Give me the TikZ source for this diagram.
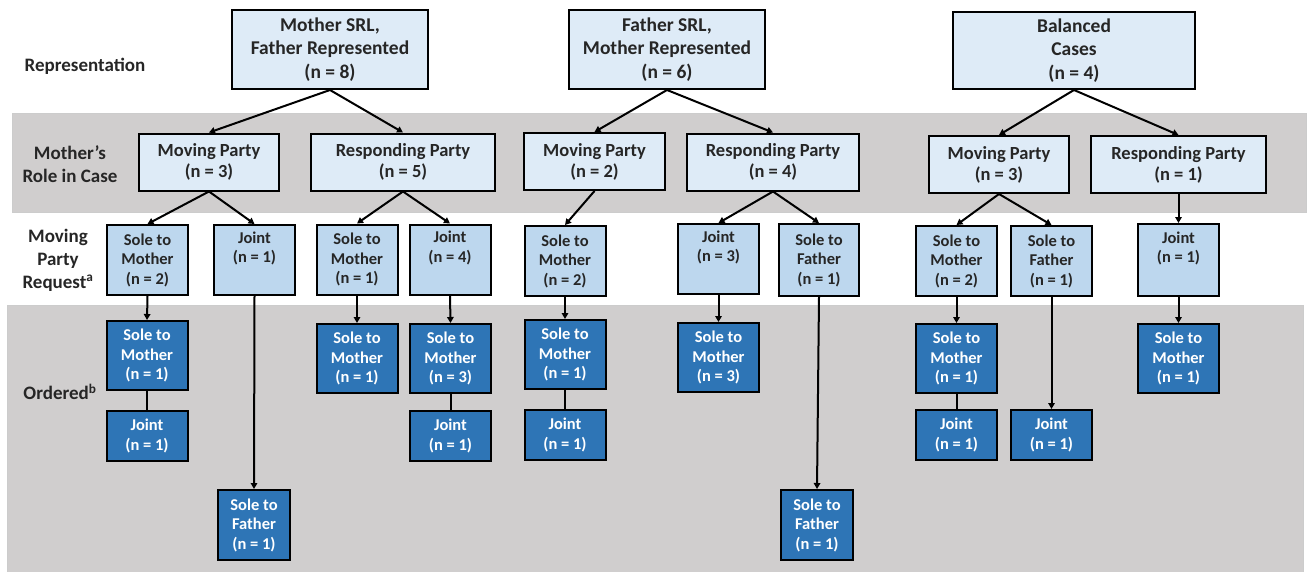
\documentclass[tikz,border=0pt]{standalone}
\usepackage{fontspec}
\setmainfont{Carlito}
\usetikzlibrary{arrows.meta}
\definecolor{topfill}{HTML}{DEEBF7}
\definecolor{midfill}{HTML}{BDD7EE}
\definecolor{darkfill}{HTML}{2E75B6}
\definecolor{bandgrey}{HTML}{D0CECE}
\definecolor{txt}{HTML}{262626}
\begin{document}
\begin{tikzpicture}[x=1pt,y=-1pt,
 base/.style={draw=black, line width=2pt, inner sep=0pt, align=center, font=\bfseries\fontsize{16.5}{19.5}\selectfont},
 topbox/.style={base, fill=topfill, text=txt, font=\bfseries\fontsize{19.5}{23.5}\selectfont, minimum width=196pt, minimum height=79pt},
 rolebox/.style={base, fill=topfill, text=txt, font=\bfseries\fontsize{18.5}{21}\selectfont, minimum height=57pt},
 reqbox/.style={base, fill=midfill, text=txt, minimum width=81pt, minimum height=70pt},
 ordbox/.style={base, fill=darkfill, text=white, minimum width=81pt, minimum height=69pt},
 jointbox/.style={base, fill=darkfill, text=white, minimum width=81pt, minimum height=50pt},
 rowlabel/.style={align=center, text=txt, font=\bfseries\fontsize{19}{23}\selectfont},
 band/.style={fill=bandgrey, draw=black!20, line width=0.8pt},
 arr/.style={-{Triangle[length=6pt,width=6.5pt]}, line width=2pt},
 link/.style={line width=2pt}]

\useasboundingbox (0,0) rectangle (1307,571);
\path[band] (12,113) rectangle (1306,212);
\path[band] (7,305) rectangle (1303,575);

% row labels
\node[rowlabel] (lab1) at (85,66) {Representation};
\node[rowlabel] (lab2) at (70,164) {Mother’s\\Role in Case};
\node[rowlabel] (lab3) at (58,260) {Moving\\Party\\Request\textsuperscript{a}};
\node[rowlabel] (lab4) at (60,392) {Ordered\textsuperscript{b}};

% top level
\node[topbox] (T1) at (330,49.5) {Mother SRL,\\Father Represented\\(n = 8)};
\node[topbox] (T2) at (667,49.5) {Father SRL,\\Mother Represented\\(n = 6)};
\node[topbox, minimum width=242pt, minimum height=77pt] (T3) at (1074,50.5) {Balanced\\Cases\\(n = 4)};

% mother's role
\node[rolebox, minimum width=140pt] (M1) at (209,162) {Moving Party\\(n = 3)};
\node[rolebox, minimum width=184pt] (R1) at (403,162) {Responding Party\\(n = 5)};
\node[rolebox, minimum width=141pt] (M2) at (594.5,161.5) {Moving Party\\(n = 2)};
\node[rolebox, minimum width=172pt] (R2) at (773,162) {Responding Party\\(n = 4)};
\node[rolebox, minimum width=140pt] (M3) at (999,164.5) {Moving Party\\(n = 3)};
\node[rolebox, minimum width=175pt] (R3) at (1178.5,164.5) {Responding Party\\(n = 1)};

% moving party request
\node[reqbox] (Q1) at (147.5,260) {Sole to\\Mother\\(n = 2)};
\node[reqbox] (Q2) at (254.5,260) {Joint\\(n = 1)\\\strut};
\node[reqbox] (Q3) at (357,259.5) {Sole to\\Mother\\(n = 1)};
\node[reqbox] (Q4) at (450,259.5) {Joint\\(n = 4)\\\strut};
\node[reqbox] (Q5) at (565,261) {Sole to\\Mother\\(n = 2)};
\node[reqbox] (Q6) at (718.5,259) {Joint\\(n = 3)\\\strut};
\node[reqbox, minimum width=80pt, minimum height=72pt] (Q7) at (819,260) {Sole to\\Father\\(n = 1)};
\node[reqbox] (Q8) at (956.5,261) {Sole to\\Mother\\(n = 2)};
\node[reqbox] (Q9) at (1051.5,261) {Sole to\\Father\\(n = 1)};
\node[reqbox, minimum height=72pt] (Q10) at (1178.5,260) {Joint\\(n = 1)\\\strut};

% ordered
\node[ordbox] (O1) at (147,355.5) {Sole to\\Mother\\(n = 1)};
\node[jointbox] (O1b) at (147,436) {Joint\\(n = 1)};
\node[ordbox, minimum width=72pt, minimum height=70pt] (O2) at (254,525) {Sole to\\Father\\(n = 1)};
\node[ordbox] (O3) at (357,358.5) {Sole to\\Mother\\(n = 1)};
\node[ordbox] (O4) at (450.5,358.5) {Sole to\\Mother\\(n = 3)};
\node[jointbox] (O4b) at (450.5,436) {Joint\\(n = 1)};
\node[ordbox] (O5) at (565,354.5) {Sole to\\Mother\\(n = 1)};
\node[jointbox] (O5b) at (565,435) {Joint\\(n = 1)};
\node[ordbox] (O6) at (718.5,357.5) {Sole to\\Mother\\(n = 3)};
\node[ordbox, minimum width=72pt, minimum height=70pt] (O7) at (817,525) {Sole to\\Father\\(n = 1)};
\node[ordbox] (O8) at (956.5,358.5) {Sole to\\Mother\\(n = 1)};
\node[jointbox] (O8b) at (956.5,435) {Joint\\(n = 1)};
\node[jointbox] (O9) at (1051.5,435) {Joint\\(n = 1)};
\node[ordbox] (O10) at (1178.5,358.5) {Sole to\\Mother\\(n = 1)};

% connectors
\draw[arr] (T1.south) -- (M1.north);
\draw[arr] (T1.south) -- (R1.north);
\draw[arr] (T2.south) -- (M2.north);
\draw[arr] (T2.south) -- (R2.north);
\draw[arr] (T3.south) -- (M3.north);
\draw[arr] (T3.south) -- (R3.north);

\draw[arr] (M1.south) -- (Q1.north);
\draw[arr] (M1.south) -- (Q2.north);
\draw[arr] (R1.south) -- (Q3.north);
\draw[arr] (R1.south) -- (Q4.north);
\draw[arr] (M2.south) -- (Q5.north);
\draw[arr] (R2.south) -- (Q6.north);
\draw[arr] (R2.south) -- (Q7.north);
\draw[arr] (M3.south) -- (Q8.north);
\draw[arr] (M3.south) -- (Q9.north);
\draw[arr] (R3.south) -- (Q10.north);

\draw[arr] (Q1.south) -- (O1.north);
\draw[link] (O1.south) -- (O1b.north);
\draw[arr] (Q2.south) -- (O2.north);
\draw[arr] (Q3.south) -- (O3.north);
\draw[arr] (Q4.south) -- (O4.north);
\draw[link] (O4.south) -- (O4b.north);
\draw[arr] (Q5.south) -- (O5.north);
\draw[link] (O5.south) -- (O5b.north);
\draw[arr] (Q6.south) -- (O6.north);
\draw[arr] (Q7.south) -- (O7.north);
\draw[arr] (Q8.south) -- (O8.north);
\draw[link] (O8.south) -- (O8b.north);
\draw[arr] (Q9.south) -- (O9.north);
\draw[arr] (Q10.south) -- (O10.north);
\end{tikzpicture}
\end{document}
